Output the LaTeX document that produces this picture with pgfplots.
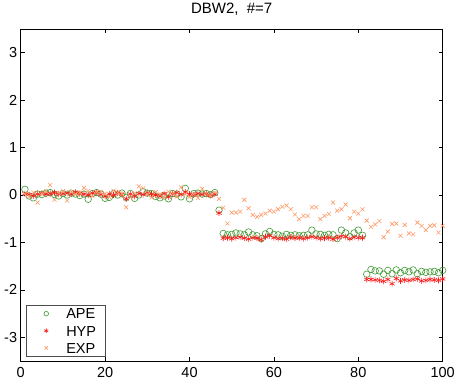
\documentclass[border=0pt]{standalone}
\usepackage{pgfplots}
\usepackage{pgfplotstable}
\pgfplotsset{compat=1.18}
\usepackage{fontspec}
\setmainfont{Liberation Sans}

\definecolor{apegreen}{rgb}{0.25,0.6,0.2}
\definecolor{hypred}{rgb}{1,0.1,0.1}
\definecolor{exporange}{rgb}{1,0.6,0.4}

% x  APE  HYP  EXP
\pgfplotstableread{
x ape hyp exp
1 0.12 0.03 0.02
2 -0.02 0.01 -0.03
3 -0.06 -0.02 0.05
4 0.02 0.02 -0.16
5 0.01 0.04 0.03
6 0.04 0.02 0.08
7 0.05 0.03 0.21
8 0.01 0.05 -0.10
9 -0.02 0.02 0.04
10 0.03 0.03 0.08
11 0.00 0.04 -0.12
12 0.04 0.02 0.06
13 0.02 0.06 0.02
14 -0.01 0.03 0.05
15 0.02 0.02 0.15
16 -0.09 0.00 0.09
17 0.03 0.04 -0.02
18 0.05 0.05 0.06
19 0.02 0.01 0.07
20 -0.07 -0.03 0.03
21 -0.05 0.02 -0.04
22 0.03 0.00 0.09
23 0.00 0.04 0.05
24 0.04 0.01 0.02
25 -0.05 -0.08 -0.26
26 0.03 0.02 -0.05
27 -0.07 -0.03 0.04
28 0.00 0.03 0.18
29 0.07 0.01 0.14
30 0.04 0.04 0.02
31 0.03 0.02 -0.05
32 -0.03 0.00 0.06
33 -0.06 -0.02 0.01
34 -0.02 0.03 -0.04
35 -0.08 -0.04 0.07
36 0.03 0.02 0.03
37 0.02 0.05 -0.03
38 -0.04 0.01 0.16
39 0.14 0.06 0.02
40 -0.08 0.02 -0.04
41 0.03 0.00 0.01
42 0.04 0.03 -0.06
43 0.02 0.01 0.13
44 0.03 0.02 0.03
45 0.01 -0.01 -0.02
46 0.05 0.02 0.05
47 -0.32 -0.38 -0.08
48 -0.81 -0.91 -0.27
49 -0.84 -0.90 -0.60
50 -0.83 -0.92 -0.37
51 -0.80 -0.90 -0.37
52 -0.82 -0.89 -0.35
53 -0.84 -0.91 -0.10
54 -0.78 -0.93 -0.28
55 -0.84 -0.90 -0.42
56 -0.86 -0.91 -0.46
57 -0.92 -0.94 -0.42
58 -0.82 -0.88 -0.39
59 -0.77 -0.86 -0.33
60 -0.83 -0.90 -0.35
61 -0.84 -0.92 -0.30
62 -0.87 -0.91 -0.25
63 -0.83 -0.93 -0.22
64 -0.85 -0.89 -0.30
65 -0.84 -0.91 -0.41
66 -0.86 -0.90 -0.51
67 -0.85 -0.92 -0.44
68 -0.84 -0.90 -0.44
69 -0.74 -0.88 -0.26
70 -0.82 -0.90 -0.26
71 -0.83 -0.92 -0.51
72 -0.85 -0.91 -0.44
73 -0.83 -0.90 -0.40
74 -0.84 -0.93 -0.16
75 -0.92 -0.90 -0.33
76 -0.74 -0.87 -0.30
77 -0.80 -0.88 -0.20
78 -0.88 -0.92 -0.49
79 -0.80 -0.89 -0.35
80 -0.74 -0.90 -0.39
81 -0.85 -0.90 -0.30
82 -1.67 -1.78 -0.54
83 -1.57 -1.78 -0.67
84 -1.60 -1.79 -0.62
85 -1.60 -1.80 -0.55
86 -1.67 -1.82 -0.89
87 -1.59 -1.78 -0.77
88 -1.66 -1.87 -0.61
89 -1.58 -1.76 -0.60
90 -1.64 -1.81 -0.86
91 -1.59 -1.79 -0.63
92 -1.62 -1.80 -0.81
93 -1.58 -1.78 -0.83
94 -1.66 -1.77 -0.58
95 -1.61 -1.81 -0.65
96 -1.63 -1.80 -0.74
97 -1.62 -1.78 -0.65
98 -1.61 -1.79 -0.64
99 -1.64 -1.80 -0.79
100 -1.59 -1.77 -0.65
}\dbwdata

\begin{document}
\begin{tikzpicture}
\useasboundingbox (-20.7bp,-21bp) rectangle (437.3bp,361bp);
\begin{axis}[
    scale only axis,
    width=422bp,
    height=332bp,
    xmin=0, xmax=100,
    ymin=-3.5, ymax=3.5,
    xtick={0,20,...,100},
    ytick={-3,-2,...,3},
    tick align=inside,
    major tick length=4bp,
    axis line style={line width=0.6bp},
    every tick/.style={black, line width=0.5bp},
    /pgf/number format/assume math mode=true,
    tick label style={font=\fontsize{14.5bp}{17bp}\selectfont},
    xticklabel style={anchor=base, inner sep=0pt, yshift=-16.3bp},
    yticklabel style={anchor=east, inner sep=0pt, xshift=-3.4bp},
    title={DBW2,\ \ \#=7},
    title style={font=\fontsize{15bp}{18bp}\selectfont, at={(0.5,1)}, anchor=base, yshift=9.7bp, inner sep=0pt},
    legend cell align=left,
    legend style={at={(0,0)}, anchor=south west, xshift=5.3bp, yshift=4.3bp,
        draw=black!70, line width=0.5bp, inner xsep=3bp, inner ysep=0bp,
        font=\fontsize{14.5bp}{17bp}\selectfont,
        nodes={inner xsep=6bp, inner ysep=3.3bp, text height=10.5bp, text depth=0bp}},
    legend image code/.code={
        \path[draw=none] (0bp,0bp) (31bp,0bp);
        \draw plot[only marks, mark size=2.3bp] coordinates {(17bp,0bp)};
    },
]
\addplot[only marks, mark=o, mark size=3.3bp, color=apegreen, line width=0.6bp] table[x=x, y=ape] {\dbwdata};
\addlegendentry{APE\hspace{9bp}}
\addplot[only marks, mark=asterisk, mark size=3bp, color=hypred, line width=0.6bp] table[x=x, y=hyp] {\dbwdata};
\addlegendentry{HYP\hspace{9bp}}
\addplot[only marks, mark=x, mark size=2.8bp, color=exporange, line width=0.6bp] table[x=x, y=exp] {\dbwdata};
\addlegendentry{EXP\hspace{9bp}}
\end{axis}
\end{tikzpicture}
\end{document}
